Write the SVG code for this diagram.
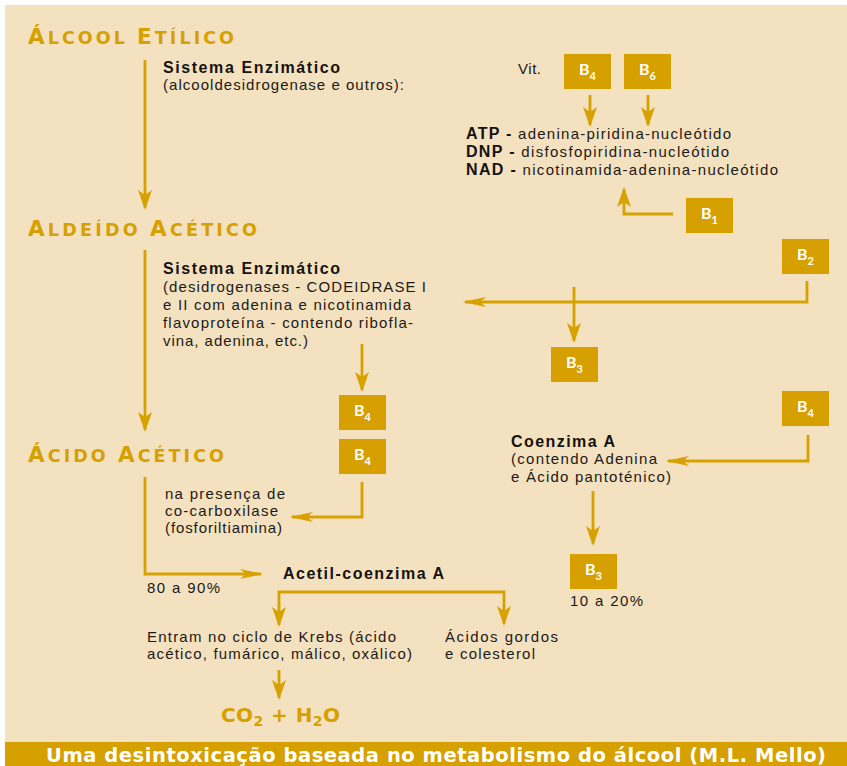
<svg xmlns="http://www.w3.org/2000/svg" width="847" height="766" viewBox="0 0 847 766">
  <defs>
    <style>
      .txt { font-family: "Liberation Sans", Arial, sans-serif; font-size: 15px; fill: #1c1a17; }
      .bold { font-family: "Liberation Sans", Arial, sans-serif; font-size: 16px; font-weight: bold; fill: #141210; }
      .title { font-family: "DejaVu Sans", Verdana, sans-serif; font-weight: bold; fill: #D5A000; }
      .big { font-size: 21.5px; }
      .sc { font-size: 17.5px; }
      .box rect { fill: #D6A000; }
      .box text { font-family: Lato, "Open Sans", sans-serif; font-weight: bold; font-size: 16px; fill: #ffffff; text-anchor: middle; }
      .box tspan { font-size: 11px; }
      .conn path { fill: none; stroke: #D7A100; stroke-width: 2.8; }
      .v { marker-end: url(#headV); }
      .h { marker-end: url(#headH); }
    </style>
    <marker id="headV" markerUnits="userSpaceOnUse" markerWidth="20" markerHeight="14" viewBox="0 0 20 14" refX="18" refY="7" orient="auto">
      <path d="M0,0 L20,7 L0,14 L5,7 Z" fill="#D7A100"/>
    </marker>
    <marker id="headH" markerUnits="userSpaceOnUse" markerWidth="23" markerHeight="10" viewBox="0 0 23 10" refX="21" refY="5" orient="auto">
      <path d="M0,0 L23,5 L0,10 L6,5 Z" fill="#D7A100"/>
    </marker>
  </defs>

  <!-- page -->
  <rect x="0" y="0" width="847" height="766" fill="#ffffff"/>
  <rect x="5" y="5" width="842" height="737" fill="#F4E1BF"/>
  <rect x="5" y="742" width="842" height="24" fill="#D6A000"/>
  <text x="46" y="762" textLength="780" lengthAdjust="spacing" font-family="'DejaVu Sans', Verdana, sans-serif" font-weight="bold" font-size="19.5" fill="#ffffff">Uma desintoxicação baseada no metabolismo do álcool (M.L. Mello)</text>

  <!-- connectors -->
  <g id="connectors" class="conn">
    <path class="v" d="M145,60 V208"/>
    <path class="v" d="M145,250 V430"/>
    <path class="h" d="M145,477 V574 H261"/>
    <path class="v" d="M590,95 V125"/>
    <path class="v" d="M648,95 V125"/>
    <path class="v" d="M673,214 H624 V189"/>
    <path class="h" d="M807,281 V302 H465"/>
    <path class="v" d="M574,287 V341"/>
    <path class="v" d="M362,344 V390"/>
    <path class="h" d="M362,482 V517 H292"/>
    <path class="h" d="M808,435 V461 H668"/>
    <path class="v" d="M593,491 V544"/>
    <path class="v" d="M392,592 H279 V625"/>
    <path class="v" d="M392,592 H504 V624"/>
    <path class="v" d="M279,670 V698"/>
  </g>

  <!-- substances -->
  <g id="alcool-etilico">
    <text class="title" x="28" y="44" textLength="206" lengthAdjust="spacing"><tspan class="big">Á</tspan><tspan class="sc">LCOOL </tspan><tspan class="big">E</tspan><tspan class="sc">TÍLICO</tspan></text>
  </g>
  <g id="aldeido-acetico">
    <text class="title" x="28" y="236" textLength="229" lengthAdjust="spacing"><tspan class="big">A</tspan><tspan class="sc">LDEÍDO </tspan><tspan class="big">A</tspan><tspan class="sc">CÉTICO</tspan></text>
  </g>
  <g id="acido-acetico">
    <text class="title" x="28" y="462" textLength="196" lengthAdjust="spacing"><tspan class="big">Á</tspan><tspan class="sc">CIDO </tspan><tspan class="big">A</tspan><tspan class="sc">CÉTICO</tspan></text>
  </g>
  <g id="co2-h2o">
    <text class="title" x="221" y="722" textLength="119" lengthAdjust="spacing" font-size="20">CO<tspan font-size="14" dy="4">2</tspan><tspan dy="-4"> + H</tspan><tspan font-size="14" dy="4">2</tspan><tspan dy="-4">O</tspan></text>
  </g>

  <!-- enzyme systems and notes -->
  <g id="sistema-1">
    <text class="bold" x="163" y="73" textLength="177" lengthAdjust="spacing">Sistema Enzimático</text>
    <text class="txt" x="163" y="90" textLength="241" lengthAdjust="spacing">(alcooldesidrogenase e outros):</text>
  </g>
  <g id="nucleotidos">
    <text class="txt" x="518" y="74" textLength="23" lengthAdjust="spacing">Vit.</text>
    <text class="txt" x="466" y="139" textLength="265" lengthAdjust="spacing"><tspan class="bold">ATP -</tspan> adenina-piridina-nucleótido</text>
    <text class="txt" x="466" y="157" textLength="263" lengthAdjust="spacing"><tspan class="bold">DNP -</tspan> disfosfopiridina-nucleótido</text>
    <text class="txt" x="466" y="175" textLength="312" lengthAdjust="spacing"><tspan class="bold">NAD -</tspan> nicotinamida-adenina-nucleótido</text>
  </g>
  <g id="sistema-2">
    <text class="bold" x="163" y="274" textLength="177" lengthAdjust="spacing">Sistema Enzimático</text>
    <text class="txt" x="163" y="292" textLength="263" lengthAdjust="spacing">(desidrogenases - CODEIDRASE I</text>
    <text class="txt" x="163" y="310" textLength="248" lengthAdjust="spacing">e II com adenina e nicotinamida</text>
    <text class="txt" x="163" y="328" textLength="250" lengthAdjust="spacing">flavoproteína - contendo ribofla-</text>
    <text class="txt" x="163" y="346" textLength="145" lengthAdjust="spacing">vina, adenina, etc.)</text>
  </g>
  <g id="co-carboxilase">
    <text class="txt" x="165" y="499" textLength="120" lengthAdjust="spacing">na presença de</text>
    <text class="txt" x="165" y="516" textLength="113" lengthAdjust="spacing">co-carboxilase</text>
    <text class="txt" x="165" y="533" textLength="117" lengthAdjust="spacing">(fosforiltiamina)</text>
  </g>
  <g id="pct-80">
    <text class="txt" x="147" y="593" textLength="73" lengthAdjust="spacing">80 a 90%</text>
  </g>
  <g id="coenzima-a">
    <text class="bold" x="511" y="447" textLength="104" lengthAdjust="spacing">Coenzima A</text>
    <text class="txt" x="511" y="464" textLength="146" lengthAdjust="spacing">(contendo Adenina</text>
    <text class="txt" x="511" y="482" textLength="160" lengthAdjust="spacing">e Ácido pantoténico)</text>
  </g>
  <g id="pct-10">
    <text class="txt" x="570" y="606" textLength="73" lengthAdjust="spacing">10 a 20%</text>
  </g>
  <g id="acetil-coenzima-a">
    <text class="bold" x="283" y="579" textLength="161" lengthAdjust="spacing">Acetil-coenzima A</text>
  </g>
  <g id="krebs">
    <text class="txt" x="147" y="642" textLength="249" lengthAdjust="spacing">Entram no ciclo de Krebs (ácido</text>
    <text class="txt" x="147" y="659" textLength="265" lengthAdjust="spacing">acético, fumárico, málico, oxálico)</text>
  </g>
  <g id="acidos-gordos">
    <text class="txt" x="445" y="642" textLength="113" lengthAdjust="spacing">Ácidos gordos</text>
    <text class="txt" x="445" y="659" textLength="90" lengthAdjust="spacing">e colesterol</text>
  </g>

  <!-- vitamin boxes -->
  <g id="vit-b4-top" class="box"><rect x="564" y="54" width="47" height="35"/><text x="587.5" y="75">B<tspan dy="5">4</tspan></text></g>
  <g id="vit-b6" class="box"><rect x="624" y="54" width="47" height="35"/><text x="647.5" y="75">B<tspan dy="5">6</tspan></text></g>
  <g id="vit-b1" class="box"><rect x="686" y="198" width="47" height="35"/><text x="709.5" y="219">B<tspan dy="5">1</tspan></text></g>
  <g id="vit-b2" class="box"><rect x="782" y="239" width="47" height="35"/><text x="805.5" y="260">B<tspan dy="5">2</tspan></text></g>
  <g id="vit-b3-mid" class="box"><rect x="551" y="347" width="47" height="35"/><text x="574.5" y="368">B<tspan dy="5">3</tspan></text></g>
  <g id="vit-b4-a" class="box"><rect x="339" y="395" width="47" height="35"/><text x="362.5" y="416">B<tspan dy="5">4</tspan></text></g>
  <g id="vit-b4-b" class="box"><rect x="339" y="439" width="47" height="35"/><text x="362.5" y="460">B<tspan dy="5">4</tspan></text></g>
  <g id="vit-b4-right" class="box"><rect x="782" y="391" width="47" height="35"/><text x="805.5" y="412">B<tspan dy="5">4</tspan></text></g>
  <g id="vit-b3-low" class="box"><rect x="570" y="554" width="47" height="35"/><text x="593.5" y="575">B<tspan dy="5">3</tspan></text></g>
</svg>
